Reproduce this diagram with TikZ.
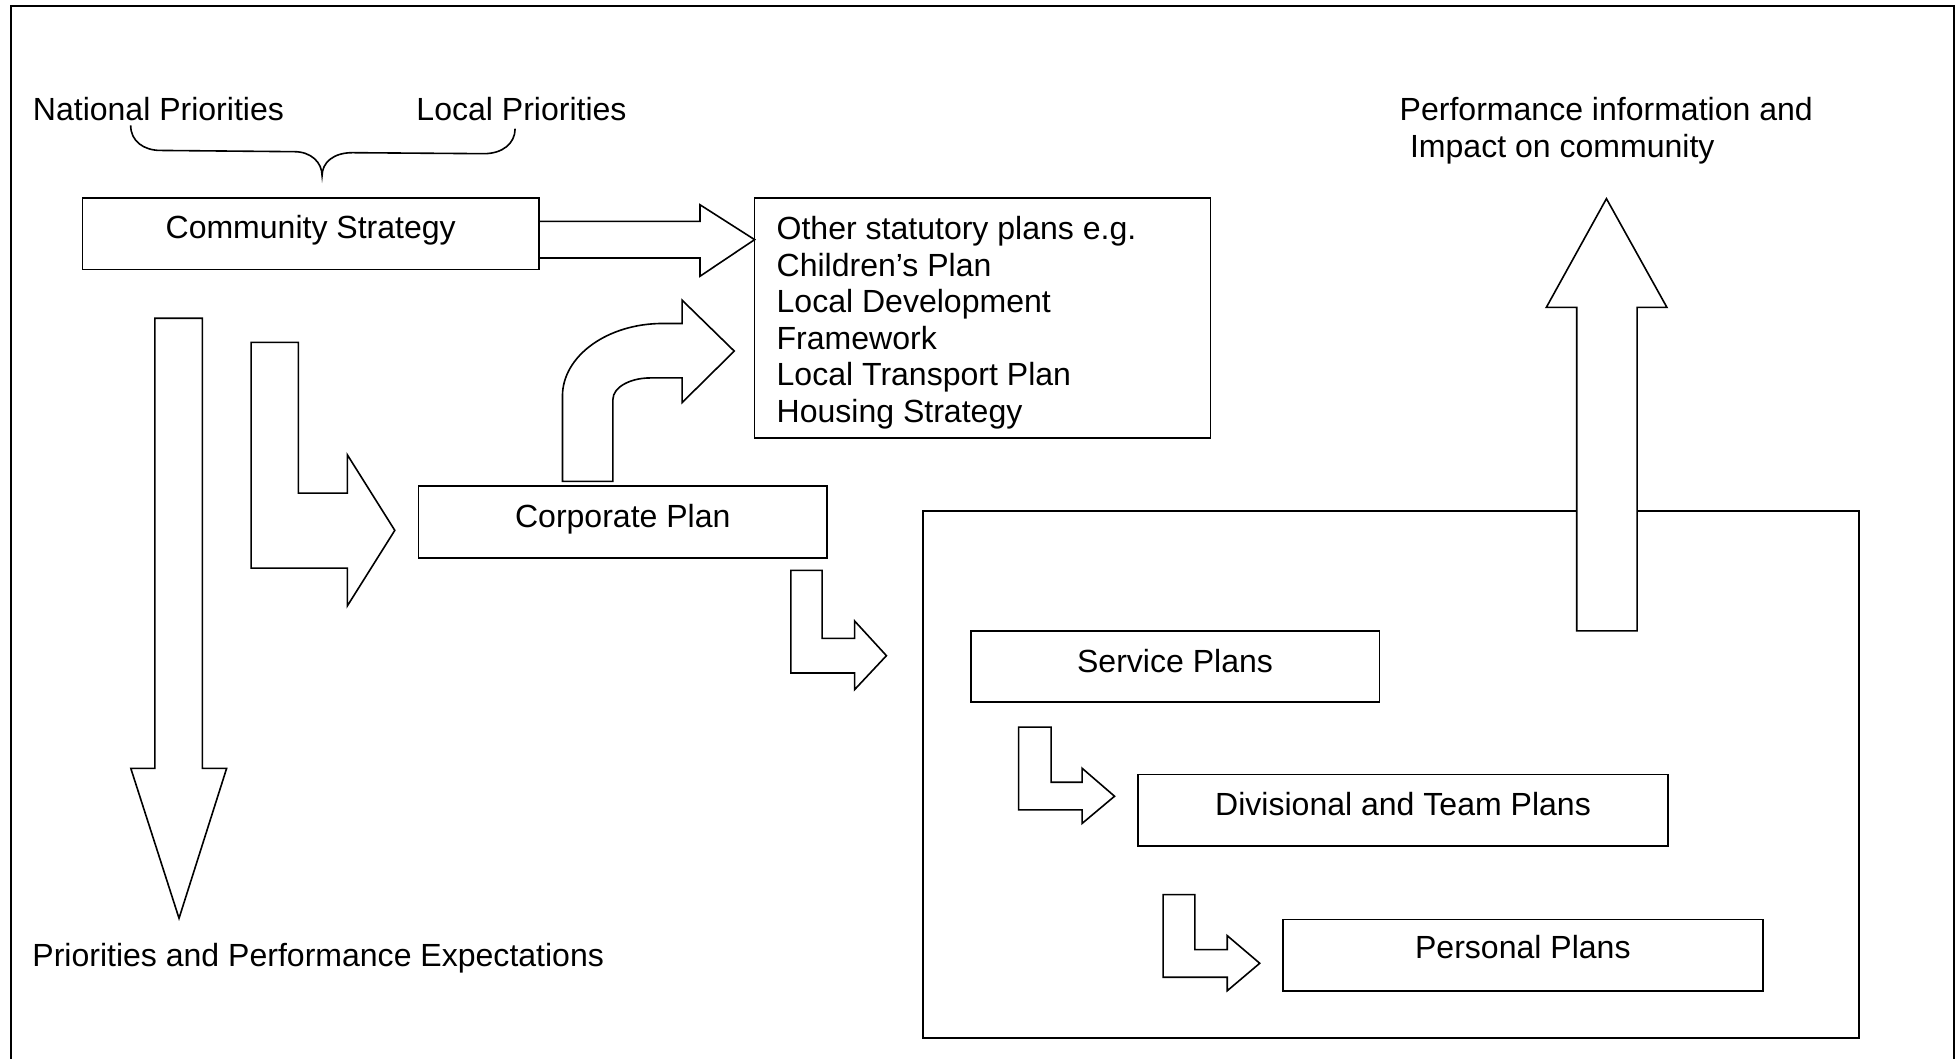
\documentclass[tikz,border=0pt]{standalone}
\usepackage{fontspec}
\setmainfont{Liberation Sans}

\begin{document}
\begin{tikzpicture}[x=0.468pt,y=-0.468pt,line width=0.6pt,
		every node/.style={font=\fontsize{12}{14}\selectfont,inner sep=0pt},
		blockarrow/.style={draw,fill=white,line join=miter}]
		\useasboundingbox (0,0) rectangle (1568,847);
		\draw[line width=0.8pt] (8.8,870) -- (8.8,4.7) -- (1564,4.7) -- (1564,870);
		
		\node[anchor=base west] (national) at (25.7,96.7){National Priorities};
		\node[anchor=base west] (local) at (332.7,96.7){Local Priorities};
		\draw (104.6,100.4) .. controls (104.6,113) and (115,120.4) .. (128.5,120.4) -- (235.6,121.4) .. controls (249,121.4) and (257.8,130) .. (257.8,140.6) .. controls (257.8,130) and (267,122.2) .. (282,122.2) -- (387.3,123) .. controls (402,123) and (412.3,115) .. (412.3,103);
		
		\draw (66,158.6) rectangle (431.5,215.8);
		\node[anchor=base] (community) at (248.7,191){Community Strategy};
		
		\draw (604,158.6) rectangle (969,350.6);
		\node[anchor=base west] (other1) at (621,191.7){Other statutory plans e.g.};
		\node[anchor=base west] (other2) at (621,221){Children’s Plan};
		\node[anchor=base west] (other3) at (621,250.3){Local Development};
		\node[anchor=base west] (other4) at (621,279.6){Framework};
		\node[anchor=base west] (other5) at (621,308.9){Local Transport Plan};
		\node[anchor=base west] (other6) at (621,338.2){Housing Strategy};
		
		\draw[blockarrow] (431.5,177.2) -- (560.3,177.2) -- (560.3,163.9) -- (604,191.8) -- (560.3,221.1) -- (560.3,206.5) -- (431.5,206.5) -- cycle;
		
		\draw[blockarrow] (124,254.7) -- (162,254.7) -- (162,615) -- (181.4,615) -- (143.3,735) -- (104.7,615) -- (124,615) -- cycle;
		\node[anchor=base west] (expect) at (25.3,773.4){Priorities and Performance Expectations};
		
		\draw[blockarrow] (201,274) -- (238.8,274) -- (238.8,394.7) -- (278,394.7) -- (278,364) -- (316,424.5) -- (278,485) -- (278,454.7) -- (201,454.7) -- cycle;
		
		\draw (335,389) rectangle (662,446.7);
		\node[anchor=base] (corporate) at (498.5,422.1){Corporate Plan};
		\draw[blockarrow] (450.2,385.3) -- (450.2,317) .. controls (450.2,285) and (486,258.9) .. (530.6,258.9) -- (546,258.9) -- (546,240.3) -- (587.7,281) -- (546,322.2) -- (546,302.5) -- (520.4,302.5) .. controls (504,302.5) and (490.6,310.2) .. (490.6,319.6) -- (490.6,385.3) -- cycle;
		
		\draw[blockarrow] (633,456.5) -- (658,456.5) -- (658,511) -- (684,511) -- (684,497) -- (709.5,524.8) -- (684,552) -- (684,538.7) -- (633,538.7) -- cycle;
		
		\draw (739,409) rectangle (1488,831);
		\draw[blockarrow] (1262,505) -- (1262,246) -- (1237.7,246) -- (1285.8,159) -- (1334.2,246) -- (1310.4,246) -- (1310.4,505) -- cycle;
		\node[anchor=base west] (perfinfo) at (1119.7,96.4){Performance information and};
		\node[anchor=base west] (impact) at (1128,126.4){Impact on community};
		
		\draw (777,505) rectangle (1104,562);
		\node[anchor=base] (service) at (940.5,538.3){Service Plans};
		\draw[blockarrow] (815.3,582) -- (841.3,582) -- (841.3,626.1) -- (866.1,626.1) -- (866.1,614.9) -- (892.1,637.3) -- (866.1,659.1) -- (866.1,648.2) -- (815.3,648.2) -- cycle;
		
		\draw (911,620) rectangle (1335,677);
		\node[anchor=base] (divisional) at (1123,652.6){Divisional and Team Plans};
		\draw[blockarrow] (931,716) -- (956.4,716) -- (956.4,760.1) -- (982.3,760.1) -- (982.3,748.9) -- (1008.3,771) -- (982.3,793) -- (982.3,782.2) -- (931,782.2) -- cycle;
		
		\draw (1026.7,736) rectangle (1411,793);
		\node[anchor=base] (personal) at (1218.9,767.5){Personal Plans};
	\end{tikzpicture}
\end{document}
